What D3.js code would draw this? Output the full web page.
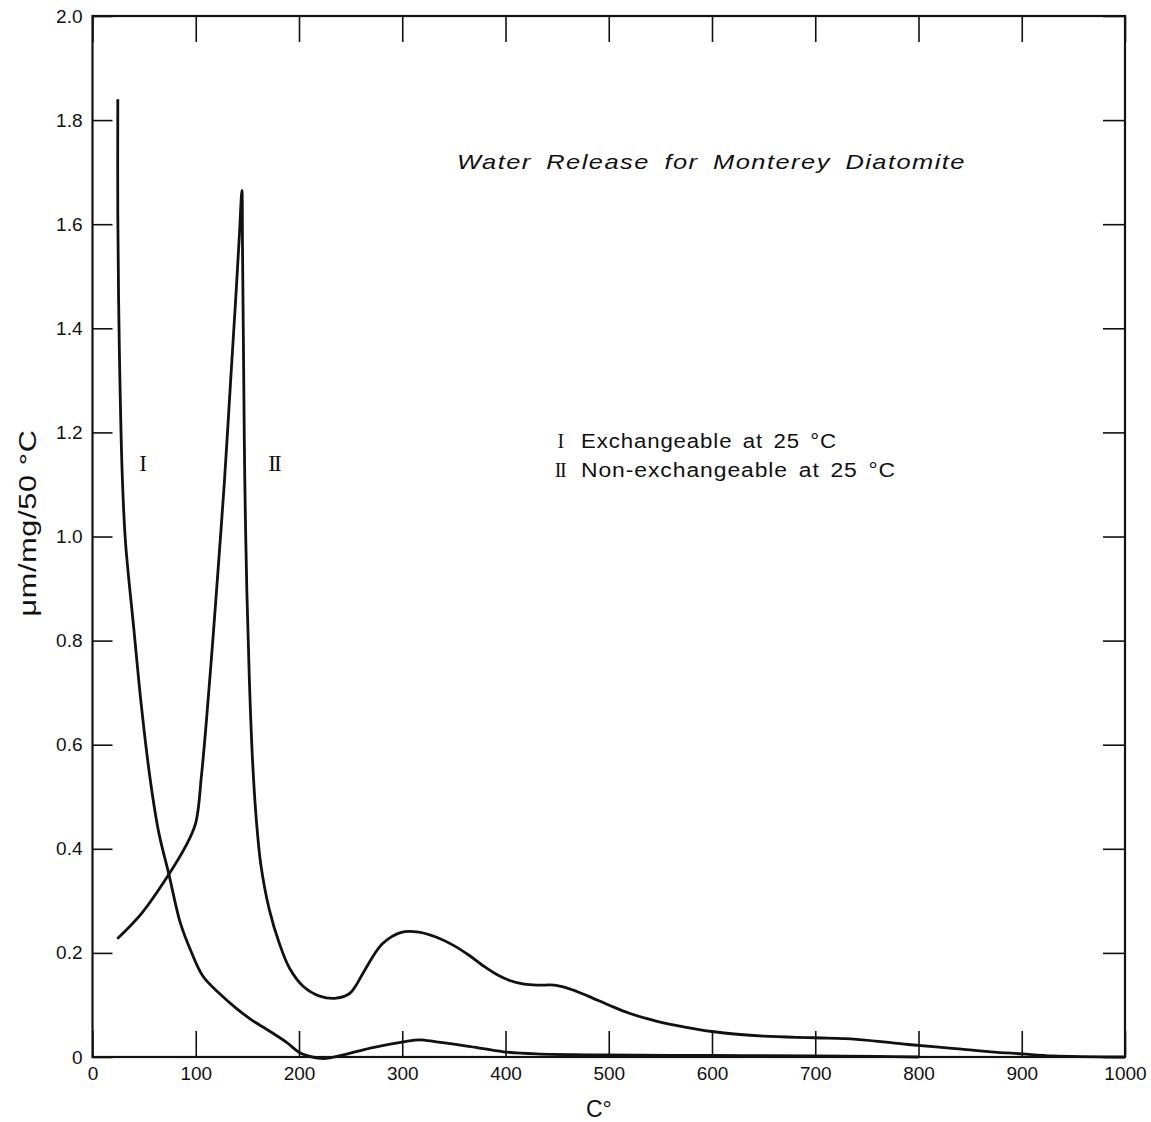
<!DOCTYPE html>
<html>
<head>
<meta charset="utf-8">
<script src="https://cdn.jsdelivr.net/npm/d3@7"></script>
<style>
  html, body { margin: 0; padding: 0; background: #fff; }
  svg { display: block; }
</style>
</head>
<body>
<script>
// ---------- data ----------
const tempI = [24.5, 24.5, 26, 29, 32, 40, 47, 55.5, 64, 74, 85, 95, 107, 123, 139, 155, 172, 188, 200, 207, 224, 243, 269, 301, 317, 333, 366, 398, 430, 495, 600, 700, 760, 800];
const valI  = [1.84, 1.62, 1.36, 1.107, 0.988, 0.823, 0.681, 0.539, 0.433, 0.351, 0.258, 0.205, 0.155, 0.122, 0.094, 0.070, 0.049, 0.028, 0.009, 0.003, -0.003, 0.004, 0.017, 0.029, 0.033, 0.029, 0.020, 0.010, 0.006, 0.004, 0.003, 0.002, 0.001, 0];

const tempII = [24, 48, 74, 90, 100, 105.5, 110.5, 116.5, 122.5, 127.8, 133.8, 138.5, 142.3, 144.7, 145.3, 146.5, 147.5, 149.5, 152, 155, 158.5, 163, 171, 181, 191, 204, 220, 236, 249, 255, 262, 281, 300, 316, 332, 350, 365, 380, 392, 404, 418, 432, 447, 462, 480, 500, 520, 546, 575, 600, 650, 700, 740, 790, 830, 870, 900, 930, 1000];
const valII  = [0.227, 0.277, 0.351, 0.404, 0.45, 0.54, 0.65, 0.80, 0.96, 1.107, 1.30, 1.45, 1.58, 1.665, 1.55, 1.30, 1.107, 0.894, 0.72, 0.57, 0.46, 0.37, 0.285, 0.218, 0.170, 0.136, 0.117, 0.113, 0.122, 0.137, 0.161, 0.218, 0.240, 0.240, 0.231, 0.214, 0.195, 0.173, 0.158, 0.147, 0.140, 0.138, 0.138, 0.131, 0.117, 0.100, 0.084, 0.069, 0.057, 0.049, 0.040, 0.037, 0.034, 0.024, 0.017, 0.010, 0.006, 0.002, 0];

const xTicks = [0, 100, 200, 300, 400, 500, 600, 700, 800, 900, 1000];
const yTicks = [0, 0.2, 0.4, 0.6, 0.8, 1.0, 1.2, 1.4, 1.6, 1.8, 2.0];

const titleText = "Water Release for Monterey Diatomite";
const legendNumerals = ["I", "II"];
const legendTexts = ["Exchangeable at 25 °C", "Non-exchangeable at 25 °C"];
const xLabel = "C°";
const yLabel = "μm/mg/50 °C";

// ---------- layout ----------
const W = 1151, H = 1122;
const L = 92.5, R = 1125, T = 16, B = 1057;
const SANS = "'Liberation Sans', Arial, sans-serif";
const SERIF = "'Liberation Serif', 'DejaVu Serif', serif";

const svg = d3.select("body").append("svg").attr("width", W).attr("height", H)
  .style("font-family", SANS);

const x = d3.scaleLinear().domain([0, 1000]).range([L, R]);
const y = d3.scaleLinear().domain([0, 2]).range([B, T]);

const fmtY = d => d === 0 ? "0" : d3.format(".1f")(d);

const gB = svg.append("g").attr("transform", `translate(0,${B})`)
  .call(d3.axisBottom(x).tickValues(xTicks).tickSizeInner(-26).tickSizeOuter(0).tickPadding(10).tickFormat(d3.format("d")));
const gT = svg.append("g").attr("transform", `translate(0,${T})`)
  .call(d3.axisTop(x).tickValues(xTicks).tickSizeInner(-26).tickSizeOuter(0).tickFormat(""));
const gL = svg.append("g").attr("transform", `translate(${L},0)`)
  .call(d3.axisLeft(y).tickValues(yTicks).tickSizeInner(-20).tickSizeOuter(0).tickPadding(10).tickFormat(fmtY));
const gR = svg.append("g").attr("transform", `translate(${R},0)`)
  .call(d3.axisRight(y).tickValues(yTicks).tickSizeInner(-22).tickSizeOuter(0).tickFormat(""));

[gB, gT, gL, gR].forEach(g => {
  g.select(".domain").remove();
  g.selectAll(".tick line").attr("stroke", "#111").attr("stroke-width", 1.6);
  g.selectAll(".tick text").attr("font-size", 19).attr("fill", "#111").attr("font-family", SANS);
});

// frame
svg.append("rect").attr("x", L).attr("y", T).attr("width", R - L).attr("height", B - T)
  .attr("fill", "none").attr("stroke", "#111").attr("stroke-width", 2.2);

// curves
const line = d3.line().x(d => x(d[0])).y(d => y(d[1])).curve(d3.curveCatmullRom.alpha(0.5));
const dataI = tempI.map((t, i) => [t, valI[i]]);
const dataII = tempII.map((t, i) => [t, valII[i]]);

svg.append("path").datum(dataI).attr("d", line)
  .attr("fill", "none").attr("stroke", "#111").attr("stroke-width", 2.8).attr("stroke-linejoin", "round");
svg.append("path").datum(dataII).attr("d", line)
  .attr("fill", "none").attr("stroke", "#111").attr("stroke-width", 2.8).attr("stroke-linejoin", "round");

// title
svg.append("text").attr("x", 457).attr("y", 169).attr("fill", "#111")
  .attr("font-size", 21).attr("font-style", "italic")
  .attr("letter-spacing", 1.2).attr("word-spacing", 5)
  .attr("textLength", 509).attr("lengthAdjust", "spacingAndGlyphs")
  .text(titleText);

// legend
const legY = [448, 477];
const legLen = [256, 315];
legendNumerals.forEach((n, i) => {
  svg.append("text").attr("x", 560).attr("y", legY[i]).attr("text-anchor", "middle").attr("fill", "#111")
    .style("font-family", SERIF).attr("font-size", 20)
    .attr("letter-spacing", -1.5).text(n);
  svg.append("text").attr("x", 581).attr("y", legY[i]).attr("fill", "#111")
    .attr("font-size", 20).attr("letter-spacing", 0.8).attr("word-spacing", 3)
    .attr("textLength", legLen[i]).attr("lengthAdjust", "spacingAndGlyphs")
    .text(legendTexts[i]);
});

// curve labels
svg.append("text").attr("x", 143).attr("y", 471).attr("text-anchor", "middle").attr("fill", "#111")
  .style("font-family", SERIF).attr("font-size", 23).text(legendNumerals[0]);
svg.append("text").attr("x", 274).attr("y", 471).attr("text-anchor", "middle").attr("fill", "#111")
  .style("font-family", SERIF).attr("font-size", 23)
  .attr("letter-spacing", -2).text(legendNumerals[1]);

// axis titles
svg.append("text").attr("x", 586).attr("y", 1117).attr("font-size", 23).attr("fill", "#111").text(xLabel);
svg.append("text").attr("transform", "translate(36,523) rotate(-90)").attr("fill", "#111")
  .attr("text-anchor", "middle").attr("font-size", 23).attr("letter-spacing", 0.5)
  .attr("textLength", 187).attr("lengthAdjust", "spacingAndGlyphs")
  .text(yLabel);
</script>
</body>
</html>
